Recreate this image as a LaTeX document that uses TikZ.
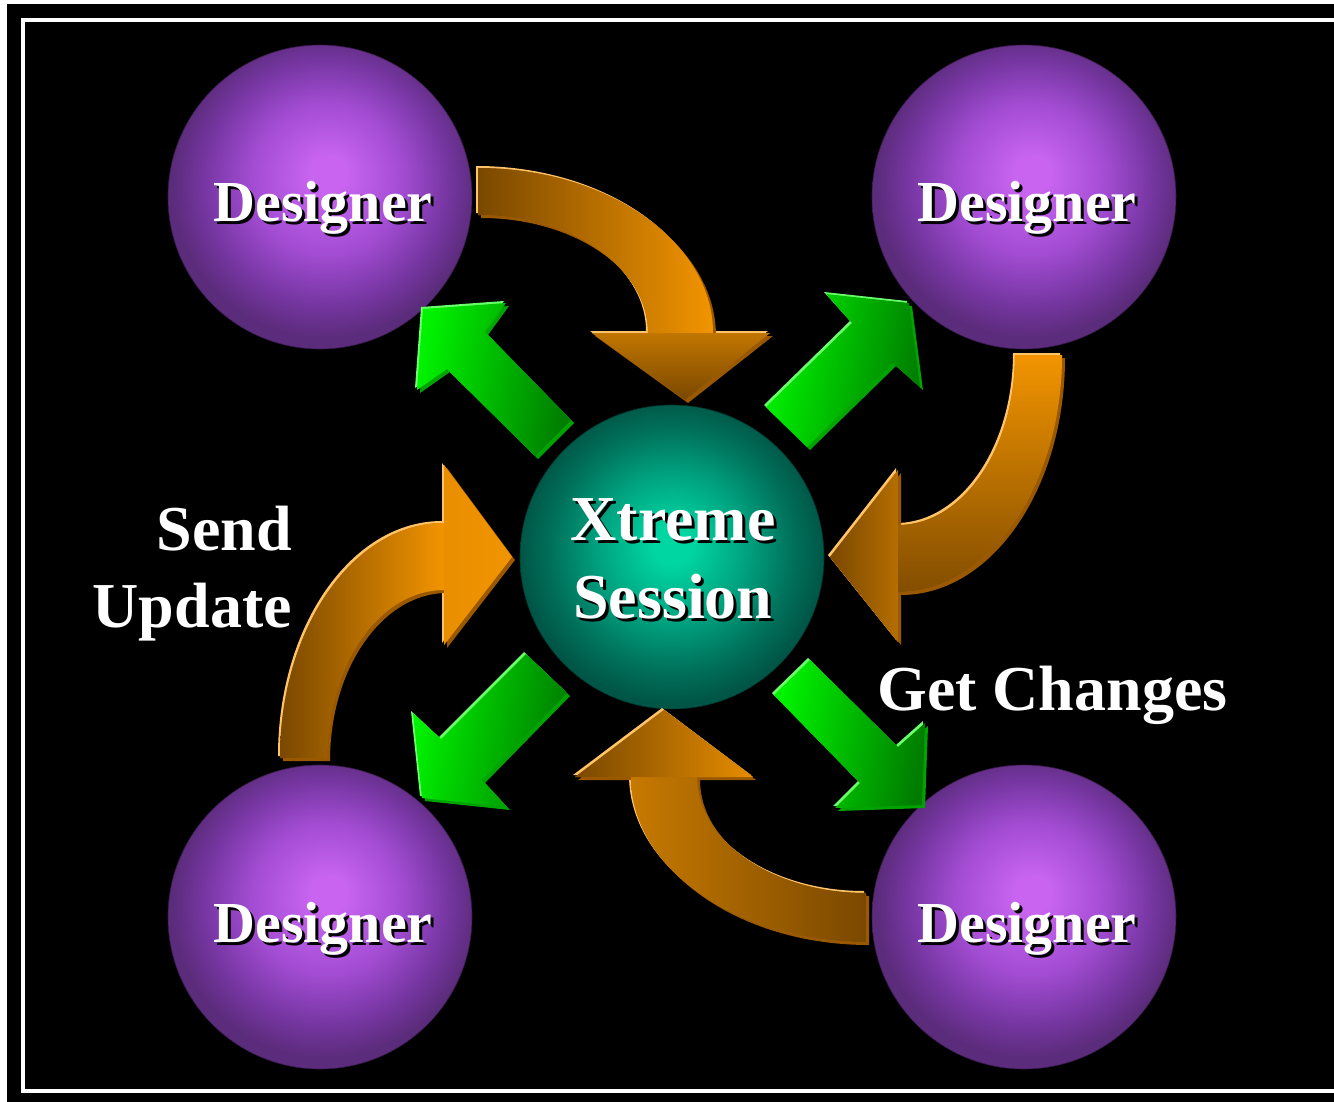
\documentclass[tikz,border=0pt]{standalone}
\usepackage{fontspec}
\setmainfont{Liberation Serif}
\definecolor{purpC}{HTML}{C864F0}
\definecolor{purpM}{HTML}{A24CD2}
\definecolor{purpD}{HTML}{7636A2}
\definecolor{purpE}{HTML}{5C2C7C}
\definecolor{tealC}{HTML}{00D6A2}
\definecolor{tealM}{HTML}{00A07E}
\definecolor{tealD}{HTML}{00705A}
\definecolor{tealE}{HTML}{005646}
\definecolor{orDark}{HTML}{7A4800}
\definecolor{orMid}{HTML}{B56E00}
\definecolor{orBright}{HTML}{F29400}
\definecolor{orRim}{HTML}{FFC36A}
\definecolor{orShadow}{HTML}{9A5800}
\definecolor{gBright}{HTML}{00F400}
\definecolor{gDark}{HTML}{007C00}
\definecolor{gRim}{HTML}{6CFF6C}
\definecolor{gShadow}{HTML}{00A400}
\pgfdeclareradialshading{purpball}{\pgfpoint{1.5bp}{4bp}}{color(0bp)=(purpC); color(3bp)=(purpC); color(12.5bp)=(purpM); color(20bp)=(purpD); color(25bp)=(purpE); color(50bp)=(purpE)}
\pgfdeclareradialshading{tealball}{\pgfpoint{0bp}{2bp}}{color(0bp)=(tealC); color(3bp)=(tealC); color(12.5bp)=(tealM); color(20bp)=(tealD); color(25bp)=(tealE); color(50bp)=(tealE)}
\newcommand\shtxt[1]{\makebox[0pt][l]{\kern3pt\raisebox{-3pt}{\color{black}#1}}#1}
\tikzset{
  designer/.style={circle, minimum size=304, inner sep=0pt, shading=purpball, draw=purpE!60!black, line width=0.6},
  session/.style={circle, minimum size=304, inner sep=0pt, shading=tealball, draw=tealE!60!black, line width=0.6},
  bigtxt/.style={font=\fontsize{58}{64}\selectfont\bfseries, text=white, inner sep=0pt, anchor=base},
  lbl/.style={font=\fontsize{64}{70}\selectfont\bfseries, text=white, inner sep=0pt},
  rimO/.style={fill=orRim, shift={(-2,-2)}},
  shadO/.style={fill=orShadow, shift={(3,3)}},
  rimG/.style={fill=gRim, shift={(-2,-2)}},
  shadG/.style={fill=gShadow, shift={(3,3)}},
}
% orange arrows: full, shaft, head
\def\oTL{(478,168) arc[start angle=-90,end angle=0,x radius=235,y radius=165] -- (770,333) -- (685,400) -- (592,333) -- (648,333) arc[start angle=0,end angle=-90,x radius=170,y radius=118] -- cycle}
\def\oTLs{(478,168) arc[start angle=-90,end angle=0,x radius=235,y radius=165] -- (648,333) arc[start angle=0,end angle=-90,x radius=170,y radius=118] -- cycle}
\def\oTLh{(592,333) -- (770,333) -- (685,400) -- cycle}
\def\oTR{(1015,355) -- (1062,355) arc[start angle=0,end angle=90,x radius=164,y radius=237] -- (898,642) -- (830,557) -- (898,470) -- (898,525) arc[start angle=90,end angle=0,x radius=117,y radius=170] -- cycle}
\def\oTRs{(1015,355) -- (1062,355) arc[start angle=0,end angle=90,x radius=164,y radius=237] -- (898,525) arc[start angle=90,end angle=0,x radius=117,y radius=170] -- cycle}
\def\oTRh{(898,470) -- (898,642) -- (830,557) -- cycle}
\def\oBR{(866,942) arc[start angle=90,end angle=180,x radius=235,y radius=165] -- (575,777) -- (664,710) -- (753,777) -- (697,777) arc[start angle=180,end angle=90,x radius=169,y radius=116] -- cycle}
\def\oBRs{(866,942) arc[start angle=90,end angle=180,x radius=235,y radius=165] -- (697,777) arc[start angle=180,end angle=90,x radius=169,y radius=116] -- cycle}
\def\oBRh{(575,777) -- (664,710) -- (753,777) -- cycle}
\def\oBL{(280,758) arc[start angle=180,end angle=270,x radius=164,y radius=235] -- (444,465) -- (512,557) -- (444,645) -- (444,590) arc[start angle=270,end angle=180,x radius=117,y radius=168] -- cycle}
\def\oBLs{(280,758) arc[start angle=180,end angle=270,x radius=164,y radius=235] -- (444,590) arc[start angle=270,end angle=180,x radius=117,y radius=168] -- cycle}
\def\oBLh{(444,465) -- (512,557) -- (444,645) -- cycle}
% green arrows
\def\gTL{(423,309) -- (506,303) -- (485,332) -- (571,420) -- (535,456) -- (447,369) -- (417,390) -- cycle}
\def\gTR{(909,303) -- (920,387) -- (893,363) -- (807,447) -- (766,407) -- (852,323) -- (826,294) -- cycle}
\def\gBL{(422,798) -- (413,713) -- (441,739) -- (526,654) -- (567,693) -- (482,780) -- (507,807) -- cycle}
\def\gBR{(922,805) -- (835,808) -- (860,783) -- (774,695) -- (810,660) -- (898,747) -- (925,723) -- cycle}
\begin{document}
\begin{tikzpicture}[x=1pt,y=-1pt]
\useasboundingbox (0,0) rectangle (1334,1102);
\fill[white] (0,0) rectangle (1334,1102);
\fill[black] (7,4) rectangle (1334,1102);
\draw[white, line width=4] (1345,20) -- (23,20) -- (23,1091) -- (1345,1091);
% circles
\node[designer] (d1) at (320,197) {};
\node[designer] (d2) at (1024,197) {};
\node[designer] (d3) at (320,917) {};
\node[designer] (d4) at (1024,917) {};
\node[session] (xs) at (672,557) {};
% orange arrows
\foreach \p in {\oTL,\oTR,\oBR,\oBL}{
  \fill[rimO] \p;
  \fill[shadO] \p;
  \fill[orMid] \p;
}
\shade[left color=orDark, right color=orBright] \oTLs;
\shade[top color=orMid!80!orBright, bottom color=orDark] \oTLh;
\shade[top color=orBright, bottom color=orDark!85!orMid] \oTRs;
\shade[left color=orDark, right color=orMid] \oTRh;
\shade[left color=orMid!70!orBright, right color=orDark] \oBRs;
\shade[left color=orDark, right color=orBright!80!orMid] \oBRh;
\shade[left color=orDark, right color=orBright] \oBLs;
\shade[left color=orBright!85!orMid, right color=orBright] \oBLh;
% green arrows
\foreach \p in {\gTL,\gTR,\gBL,\gBR}{
  \fill[rimG] \p;
  \fill[shadG] \p;
  \shade[left color=gBright, right color=gDark, shading angle=80] \p;
}
% texts
\node[bigtxt] (t1) at (323,222) {\shtxt{Designer}};
\node[bigtxt] (t2) at (1027,222) {\shtxt{Designer}};
\node[bigtxt] (t3) at (323,942) {\shtxt{Designer}};
\node[bigtxt] (t4) at (1027,942) {\shtxt{Designer}};
\node[lbl, anchor=base] (x1) at (673,540) {\shtxt{Xtreme}};
\node[lbl, anchor=base] (x2) at (673,618) {\shtxt{Session}};
\node[lbl, anchor=base east] (s1) at (292,550) {Send};
\node[lbl, anchor=base east] (s2) at (292,627) {Update};
\node[lbl, anchor=base west] (g1) at (877,710) {Get Changes};
\end{tikzpicture}
\end{document}
